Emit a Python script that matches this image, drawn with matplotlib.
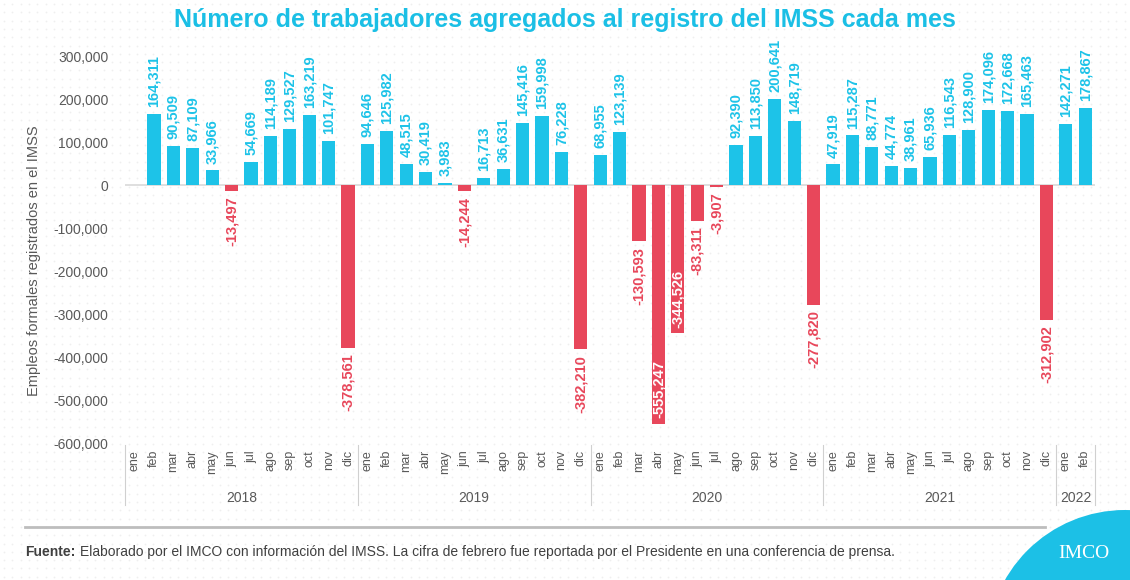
import numpy as np
import matplotlib
matplotlib.use('Agg')
import matplotlib.pyplot as plt
import matplotlib.transforms as mtransforms
from matplotlib.patches import Ellipse
from matplotlib.lines import Line2D

plt.rcParams['font.family'] = ['Liberation Sans', 'DejaVu Sans']

CYAN = '#1DC3E8'
RED = '#E8475B'
GRAY = '#595959'

YEARS = ['2018', '2019', '2020', '2021', '2022']
MONTHS = ['ene', 'feb', 'mar', 'abr', 'may', 'jun',
          'jul', 'ago', 'sep', 'oct', 'nov', 'dic']
MONTHS_PER_YEAR = [12, 12, 12, 12, 2]

# new formal jobs per month (ene 2018 has no value in the source)
V2018 = [None, 164311, 90509, 87109, 33966, -13497,
         54669, 114189, 129527, 163219, 101747, -378561]
V2019 = [94646, 125982, 48515, 30419, 3983, -14244,
         16713, 36631, 145416, 159998, 76228, -382210]
V2020 = [68955, 123139, -130593, -555247, -344526, -83311,
         -3907, 92390, 113850, 200641, 148719, -277820]
V2021 = [47919, 115287, 88771, 44774, 38961, 65936,
         116543, 128900, 174096, 172668, 165463, -312902]
V2022 = [142271, 178867]

# months whose label sits inside the bar end (abr and may 2020)
INSIDE_LABELS = [(2020, 'abr'), (2020, 'may')]

values = V2018 + V2019 + V2020 + V2021 + V2022
month_labels = [m for n in MONTHS_PER_YEAR for m in MONTHS[:n]]
year_of = [int(y) for y, n in zip(YEARS, MONTHS_PER_YEAR) for _ in range(n)]
x = list(range(len(values)))

YMIN, YMAX = -600000, 300000
W, H = 1130, 580

fig = plt.figure(figsize=(11.3, 5.8), dpi=100)

# faint dotted background
bg = fig.add_axes([0, 0, 1, 1], zorder=-5)
bg.set_xlim(0, W)
bg.set_ylim(H, 0)
bg.axis('off')
gx, gy = np.meshgrid(np.arange(4, W, 8.3), np.arange(4, H, 8.3))
bg.scatter(gx.ravel(), gy.ravel(), s=1.6, color='#efefef', lw=0)

ax = fig.add_axes([0.1106, 0.236, 0.8584, 0.6674])
ax.patch.set_alpha(0)

for xi, v, m, yr in zip(x, values, month_labels, year_of):
    if v is None:
        continue
    col = CYAN if v >= 0 else RED
    ax.bar(xi, v, width=0.68, color=col, zorder=2)
    lab = f'{v:,}'
    if v >= 0:
        ax.annotate(lab, (xi, v), xytext=(0, 5), textcoords='offset points',
                    rotation=90, ha='center', va='bottom', color=CYAN,
                    fontsize=10.5, fontweight='bold', annotation_clip=False)
    elif (yr, m) in INSIDE_LABELS:
        ax.annotate(lab, (xi, v), xytext=(0, 4), textcoords='offset points',
                    rotation=90, ha='center', va='bottom', color='white',
                    fontsize=10.5, fontweight='bold', zorder=3)
    else:
        ax.annotate(lab, (xi, v), xytext=(0, -4), textcoords='offset points',
                    rotation=90, ha='center', va='top', color=RED,
                    fontsize=10.5, fontweight='bold')

ax.axhline(0, color='#d9d9d9', lw=1.2, zorder=1)
ax.set_ylim(YMIN, YMAX)
ax.set_xlim(-0.5, len(values) - 0.5)
ax.set_yticks(range(YMIN, YMAX + 1, 100000))
ax.set_yticklabels([f'{t:,}' for t in range(YMIN, YMAX + 1, 100000)])
ax.tick_params(axis='y', length=0, labelsize=10, labelcolor=GRAY, pad=12)
ax.set_xticks(x)
ax.set_xticklabels(month_labels, rotation=90)
ax.tick_params(axis='x', length=0, labelsize=9, labelcolor=GRAY, pad=5)
for s in ax.spines.values():
    s.set_visible(False)
ax.set_ylabel('Empleos formales registrados en el IMSS', color=GRAY,
              fontsize=10.5)
ax.yaxis.set_label_coords(-0.087, 0.47)

# year labels and separators under the month labels
trans = mtransforms.blended_transform_factory(ax.transData, ax.transAxes)
start = 0
bounds = [-0.5]
for yr, n in zip(YEARS, MONTHS_PER_YEAR):
    mid = start + (n - 1) / 2
    ax.text(mid, -0.143, yr, transform=trans, ha='center', va='center',
            color=GRAY, fontsize=10)
    start += n
    bounds.append(start - 0.5)
for b in bounds:
    ax.add_line(Line2D([b, b], [-0.005, -0.16], transform=trans,
                       color='#d0d0d0', lw=0.8, clip_on=False))

fig.text(0.5, 1 - 20 / H, 'Número de trabajadores agregados al registro del IMSS cada mes',
         ha='center', va='center', color='#1BBFE5', fontsize=18,
         fontweight='bold')

# footer
fig.add_artist(Line2D([25 / W, 1045 / W], [1 - 527 / H, 1 - 527 / H],
                      transform=fig.transFigure, color='#bdbdbd', lw=2))
t1 = fig.text(25 / W, 1 - 552 / H, 'Fuente:', ha='left', va='center',
              color='#404040', fontsize=10, fontweight='bold')
fig.canvas.draw()
bb = t1.get_window_extent()
fig.text(bb.x1 / W + 0.004, 1 - 552 / H,
         'Elaborado por el IMCO con información del IMSS. La cifra de febrero '
         'fue reportada por el Presidente en una conferencia de prensa.',
         ha='left', va='center', color='#404040', fontsize=10)

# logo
fig.add_artist(Ellipse((1125 / W, 1 - 648 / H), 276 / W, 276 / H,
                       transform=fig.transFigure, color='#1CC0E6', lw=0))
fig.text(1084 / W, 1 - 553 / H, 'IMCO', ha='center', va='center',
         color='white', fontsize=14, family='Liberation Serif')

fig.savefig('out.png', dpi=100)
